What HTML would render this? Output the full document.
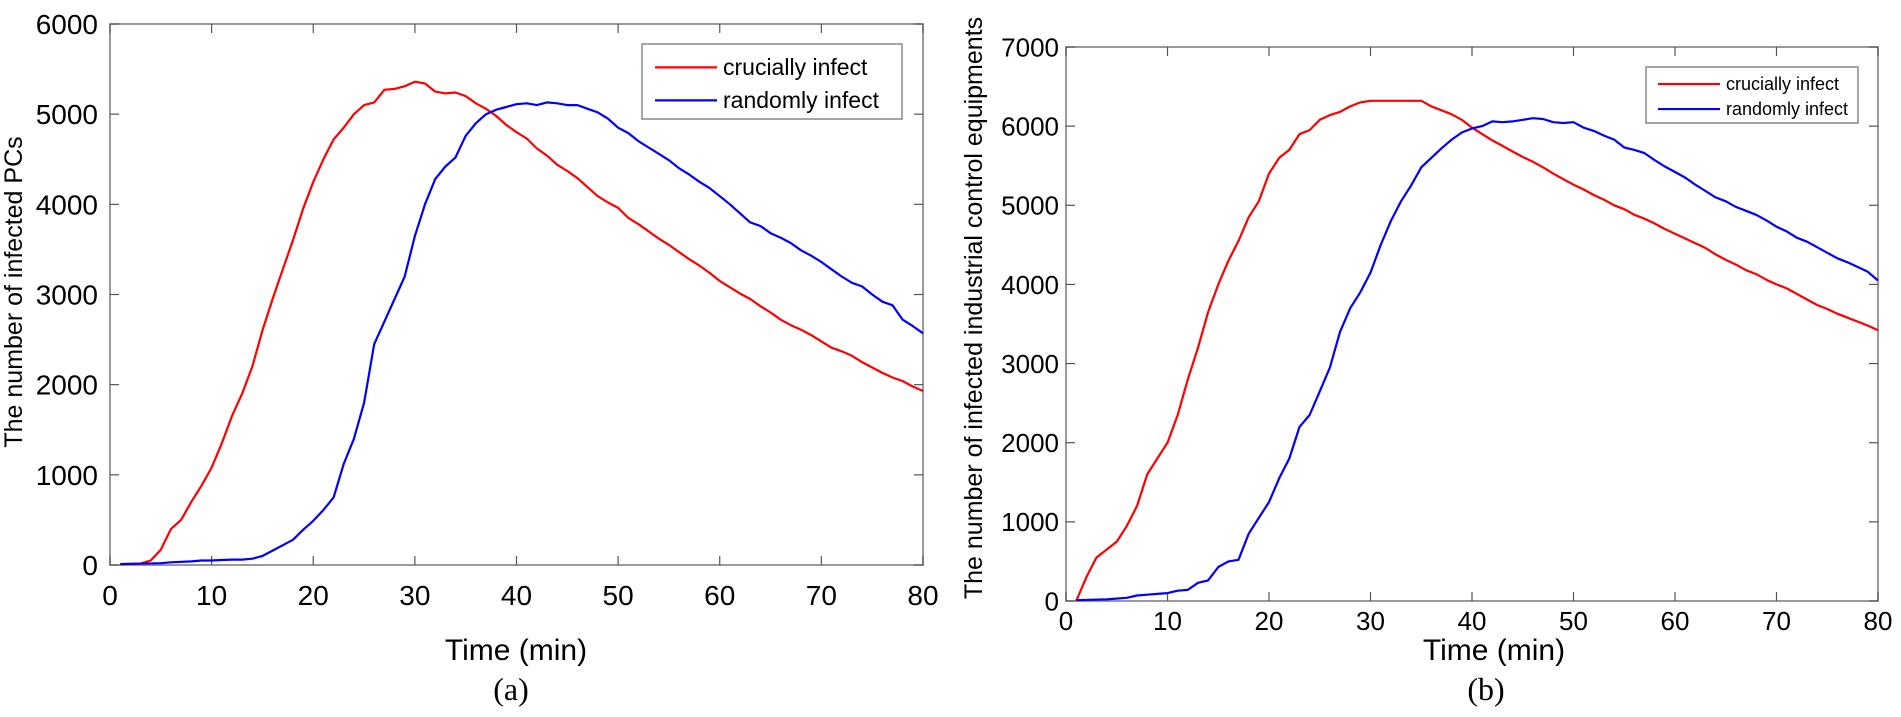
<!DOCTYPE html>
<html><head><meta charset="utf-8"><style>
html,body{margin:0;padding:0;background:#fff;}
svg text{font-family:"Liberation Sans",sans-serif;fill:#000;}
</style></head><body>
<svg id="s" width="1901" height="712" xmlns="http://www.w3.org/2000/svg"></svg>
<script>
var s=document.getElementById('s');var h='';
function plot(o){
  var X=function(v){return o.x0+(o.x1-o.x0)*v/80;};
  var Y=function(v){return o.y0-(o.y0-o.y1)*v/o.ymax;};
  h+='<rect x="'+o.x0+'" y="'+o.y1+'" width="'+(o.x1-o.x0)+'" height="'+(o.y0-o.y1)+'" fill="none" stroke="#808080" stroke-width="1.6"/>';
  for(var t=0;t<=80;t+=10){var x=X(t);
    h+='<line x1="'+x+'" y1="'+o.y0+'" x2="'+x+'" y2="'+(o.y0-9)+'" stroke="#555" stroke-width="1.2"/>';
    h+='<line x1="'+x+'" y1="'+o.y1+'" x2="'+x+'" y2="'+(o.y1+9)+'" stroke="#555" stroke-width="1.2"/>';
    h+='<text x="'+x+'" y="'+o.xl+'" font-size="'+o.fs+'" text-anchor="middle">'+t+'</text>';}
  for(var v=0;v<=o.ymax;v+=1000){var y=Y(v);
    h+='<line x1="'+o.x0+'" y1="'+y+'" x2="'+(o.x0+9)+'" y2="'+y+'" stroke="#555" stroke-width="1.2"/>';
    h+='<line x1="'+o.x1+'" y1="'+y+'" x2="'+(o.x1-9)+'" y2="'+y+'" stroke="#555" stroke-width="1.2"/>';
    h+='<text x="'+o.yl+'" y="'+(y+o.fs*0.36)+'" font-size="'+o.fs+'" text-anchor="end">'+v+'</text>';}
  [[o.red,'#ff0000'],[o.blue,'#0000ff']].forEach(function(p){
    var d=p[0],pts=[];for(var i=0;i<d.length;i+=2)pts.push(X(d[i]).toFixed(1)+','+Y(d[i+1]).toFixed(1));
    h+='<polyline points="'+pts.join(' ')+'" fill="none" stroke="'+p[1]+'" stroke-width="2.2" stroke-linejoin="round"/>';});
  var L=o.leg;
  h+='<rect x="'+L[0]+'" y="'+L[1]+'" width="'+(L[2]-L[0])+'" height="'+(L[3]-L[1])+'" fill="#fff" stroke="#808080" stroke-width="1.4"/>';
  h+='<line x1="'+L[4]+'" y1="'+(L[6]-L[8]*0.33)+'" x2="'+L[5]+'" y2="'+(L[6]-L[8]*0.33)+'" stroke="#ff0000" stroke-width="2.2"/>';
  h+='<line x1="'+L[4]+'" y1="'+(L[7]-L[8]*0.33)+'" x2="'+L[5]+'" y2="'+(L[7]-L[8]*0.33)+'" stroke="#0000ff" stroke-width="2.2"/>';
  h+='<text x="'+(L[5]+6)+'" y="'+L[6]+'" font-size="'+L[8]+'">crucially infect</text>';
  h+='<text x="'+(L[5]+6)+'" y="'+L[7]+'" font-size="'+L[8]+'">randomly infect</text>';
}
var lr=[1,10,3,15,4,50,5,170,6,400,7,500,8,700,9,880,10,1080,11,1350,12,1650,13,1900,14,2200,15,2600,16,2950,17,3280,18,3600,19,3950,20,4250,21,4500,22,4720,23,4850,24,5000,25,5100,26,5130,27,5270,28,5280,29,5310,30,5360,31,5340,32,5250,33,5230,34,5240,35,5200,36,5120,37,5060,38,4980,39,4880,40,4800,41,4730,42,4620,43,4540,44,4440,45,4370,46,4290,47,4190,48,4090,49,4020,50,3960,51,3850,52,3780,53,3700,54,3620,55,3550,56,3470,57,3390,58,3320,59,3240,60,3150,61,3080,62,3010,63,2950,64,2870,65,2800,66,2720,67,2660,68,2610,69,2550,70,2480,71,2410,72,2370,73,2320,74,2250,75,2190,76,2130,77,2080,78,2040,79,1980,80,1930];
var lb=[1,10,5,20,6,30,8,40,9,50,10,50,11,55,12,60,13,60,14,70,15,100,16,160,17,220,18,280,19,390,20,490,21,610,22,750,23,1120,24,1400,25,1800,26,2450,27,2700,28,2950,29,3200,30,3650,31,4000,32,4280,33,4420,34,4520,35,4760,36,4900,37,5000,38,5050,39,5080,40,5110,41,5120,42,5100,43,5130,44,5120,45,5100,46,5100,47,5060,48,5020,49,4950,50,4850,51,4790,52,4700,53,4630,54,4560,55,4490,56,4400,57,4330,58,4250,59,4180,60,4090,61,4000,62,3900,63,3800,64,3760,65,3680,66,3630,67,3570,68,3490,69,3430,70,3360,71,3280,72,3200,73,3130,74,3090,75,3000,76,2920,77,2880,78,2720,79,2650,80,2570];
var rr=[1,0,2,300,3,550,4,650,5,750,6,950,7,1200,8,1600,9,1800,10,2000,11,2350,12,2800,13,3200,14,3650,15,4000,16,4300,17,4550,18,4850,19,5050,20,5400,21,5600,22,5700,23,5900,24,5950,25,6080,26,6140,27,6180,28,6250,29,6300,30,6320,35,6320,36,6250,37,6200,38,6150,39,6080,40,5980,41,5900,42,5820,43,5750,44,5680,45,5610,46,5550,47,5480,48,5400,49,5330,50,5260,51,5200,52,5130,53,5070,54,5000,55,4950,56,4880,57,4830,58,4770,59,4700,60,4640,61,4580,62,4520,63,4460,64,4380,65,4310,66,4250,67,4180,68,4130,69,4060,70,4000,71,3950,72,3880,73,3810,74,3740,75,3690,76,3630,77,3580,78,3530,79,3480,80,3420];
var rb=[1,10,4,20,6,40,7,70,8,80,9,90,10,100,11,130,12,140,13,230,14,260,15,430,16,500,17,520,18,850,19,1050,20,1250,21,1550,22,1800,23,2200,24,2350,25,2650,26,2950,27,3400,28,3700,29,3900,30,4150,31,4500,32,4800,33,5050,34,5250,35,5480,36,5600,37,5720,38,5830,39,5920,40,5970,41,6000,42,6060,43,6050,44,6060,45,6080,46,6100,47,6090,48,6050,49,6040,50,6050,51,5980,52,5940,53,5880,54,5830,55,5730,56,5700,57,5660,58,5570,59,5490,60,5420,61,5350,62,5260,63,5180,64,5100,65,5050,66,4980,67,4930,68,4880,69,4810,70,4730,71,4670,72,4590,73,4540,74,4470,75,4400,76,4330,77,4280,78,4220,79,4160,80,4050];
plot({x0:110,x1:923,y0:565,y1:24,ymax:6000,xl:605,yl:98,fs:28,red:lr,blue:lb,leg:[642,44,902,119,655,717,75,108,23]});
plot({x0:1066,x1:1878,y0:601,y1:47,ymax:7000,xl:630,yl:1059,fs:26,red:rr,blue:rb,leg:[1646,67,1858,123,1658,1720,90,115,18]});
h+='<text x="516" y="660" font-size="30" text-anchor="middle">Time (min)</text>';
h+='<text x="1494" y="660" font-size="30" text-anchor="middle">Time (min)</text>';
h+='<text x="511" y="700" font-size="32" text-anchor="middle" style="font-family:\'Liberation Serif\',serif">(a)</text>';
h+='<text x="1486" y="700" font-size="32" text-anchor="middle" style="font-family:\'Liberation Serif\',serif">(b)</text>';
h+='<text transform="translate(22,292) rotate(-90)" font-size="25" text-anchor="middle">The number of infected PCs</text>';
h+='<text transform="translate(982,308) rotate(-90)" font-size="25" text-anchor="middle">The number of infected industrial control equipments</text>';
s.innerHTML=h;
</script>
</body></html>
